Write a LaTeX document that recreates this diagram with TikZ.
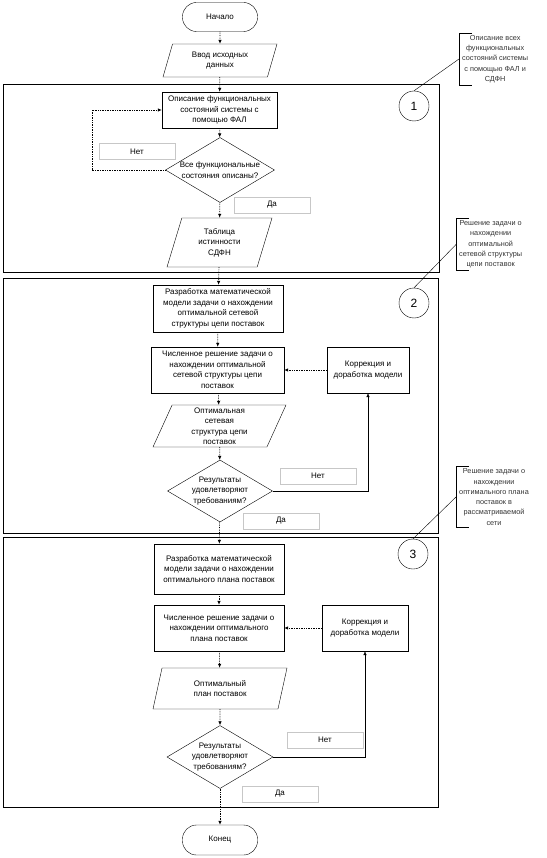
\documentclass[tikz,border=0pt]{standalone}
\usepackage{fontspec}
\setmainfont{Liberation Sans}
\usetikzlibrary{arrows.meta,positioning,shapes.geometric}
\tikzset{
  flowterm/.style={draw, rounded corners=14pt, align=center, minimum width=75pt, minimum height=29pt, inner sep=2pt, font=\fontsize{8}{10.5}\selectfont},
  flowproc/.style={draw, align=center, minimum width=130pt, inner sep=2pt, font=\fontsize{8}{10.5}\selectfont},
  flowio/.style={draw, trapezium, trapezium left angle=64, trapezium right angle=116, trapezium stretches body, align=center, inner sep=1pt, font=\fontsize{8}{10.5}\selectfont},
  flowdecision/.style={draw, diamond, minimum width=106pt, minimum height=63pt, inner sep=0pt},
  decisiontext/.style={align=center, inner sep=0pt, font=\fontsize{8}{10.5}\selectfont},
  flowlabel/.style={draw=black!22, minimum width=76pt, minimum height=16pt, inner sep=1pt, font=\fontsize{8}{10}\selectfont},
  stagecircle/.style={draw, circle, minimum size=30pt, inner sep=0pt, font=\fontsize{12}{12}\selectfont},
  stagenote/.style={align=center, inner xsep=3pt, inner ysep=2pt, font=\fontsize{7.3}{10.3}\selectfont, text=black!80},
  stagebox/.style={line width=0.6pt},
  stageleader/.style={line width=0.4pt},
  flowarrow/.style={-{Latex[length=4pt,width=3.5pt]}, densely dotted, line width=0.7pt},
  flowreturn/.style={-{Latex[length=4pt,width=3.5pt]}, line width=0.5pt}
}
\begin{document}
\begin{tikzpicture}[x=1pt,y=-1pt]
\useasboundingbox (0,0) rectangle (546,858);
% stage frames
\draw[stagebox] (3,84) rectangle (439,272);
\draw[stagebox] (3,278) rectangle (438,533);
\draw[stagebox] (3,537) rectangle (438,807);
\node[flowterm] (start) at (220,17) {Начало};
\node[flowio, minimum width=114pt, minimum height=33pt] (input) at (220,60.5) {Ввод исходных\\данных};
% stage 1
\node[stagecircle] (stage1) at (414,106) {1};
\node[stagenote, anchor=west] (note1) at (459,59) {Описание всех\\функциональных\\состояний системы\\с помощью ФАЛ и\\СДФН};
\node[flowproc, minimum width=115pt, minimum height=36pt] (describeStates) at (219.5,110) {Описание функциональных\\состояний системы с\\помощью ФАЛ};
\node[flowdecision, minimum width=109pt, minimum height=65pt, label={[decisiontext]center:{Все функциональные\\состояния описаны?}}] (allDescribed) at (220,170) {};
\node[flowlabel] (no1) at (137,151.5) {Нет};
\node[flowlabel] (yes1) at (272,205) {Да};
\node[flowio, minimum width=105pt, minimum height=49pt] (truthTable) at (219.5,242.5) {Таблица\\истинности\\СДФН};
\coordinate (loop1) at (92,170);
% stage 2
\node[stagecircle] (stage2) at (414,303) {2};
\node[stagenote, anchor=west] (note2) at (456,244.5) {Решение задачи о\\нахождении\\оптимальной\\сетевой структуры\\цепи поставок};
\node[flowproc, minimum height=47pt] (netModel) at (218,308.5) {Разработка математической\\модели задачи о нахождении\\оптимальной сетевой\\структуры цепи поставок};
\node[flowproc, minimum width=133pt, minimum height=46pt] (netSolve) at (217.5,370) {Численное решение задачи о\\нахождении оптимальной\\сетевой структуры цепи\\поставок};
\node[flowproc, minimum width=82pt, minimum height=46pt] (netFix) at (368,370) {Коррекция и\\доработка модели};
\node[flowio, minimum width=133pt, minimum height=42pt] (netStructure) at (219.5,426) {Оптимальная\\сетевая\\структура цепи\\поставок};
\node[flowdecision, minimum width=105pt, minimum height=62pt, label={[decisiontext]center:{Результаты\\удовлетворяют\\требованиям?}}] (netCheck) at (220,491) {};
\node[flowlabel] (no2) at (318,476) {Нет};
\node[flowlabel] (yes2) at (281,521) {Да};
% stage 3
\node[stagecircle] (stage3) at (413,554) {3};
\node[stagenote, anchor=west] (note3) at (456,497) {Решение задачи о\\нахождении\\оптимального плана\\поставок в\\рассматриваемой\\сети};
\node[flowproc, minimum height=50pt] (planModel) at (219,569) {Разработка математической\\модели задачи о нахождении\\оптимального плана поставок};
\node[flowproc, minimum height=46pt] (planSolve) at (219,628) {Численное решение задачи о\\нахождении оптимального\\плана поставок};
\node[flowproc, minimum width=86pt, minimum height=46pt] (planFix) at (365,628) {Коррекция и\\доработка модели};
\node[flowio, minimum width=134pt, minimum height=41pt] (planResult) at (220,688.5) {Оптимальный\\план поставок};
\node[flowdecision, minimum width=106pt, minimum height=63pt, label={[decisiontext]center:{Результаты\\удовлетворяют\\требованиям?}}] (planCheck) at (220,757) {};
\node[flowlabel] (no3) at (325,740) {Нет};
\node[flowlabel] (yes3) at (280,794) {Да};
\node[flowterm, minimum height=30pt] (finish) at (220,840) {Конец};
% notes
\foreach \n in {note1,note2,note3}
  \draw[stageleader] (\n.north west) ++(13,0) -- (\n.north west) -- (\n.south west) -- ++(13,0);
\draw[stageleader] (stage1.north) -- (note1.west);
\draw[stageleader] (stage2.north) -- (note2.west);
\draw[stageleader] (stage3.north) -- (note3.west);
% flow
\draw[flowarrow] (start) -- (input);
\draw[flowarrow] (input) -- (describeStates);
\draw[flowarrow] (describeStates) -- (allDescribed);
\draw[flowarrow] (allDescribed) -- (truthTable);
\draw[flowarrow] (allDescribed.west) -- (loop1) |- (describeStates.west);
\draw[flowarrow] (truthTable) -- (netModel);
\draw[flowarrow] (netModel) -- (netSolve);
\draw[flowarrow] (netSolve) -- (netStructure);
\draw[flowarrow] (netStructure) -- (netCheck);
\draw[flowarrow] (netFix) -- (netSolve);
\draw[flowreturn] (netCheck.east) -| (netFix.south);
\draw[flowarrow] (netCheck) -- (planModel);
\draw[flowarrow] (planModel) -- (planSolve);
\draw[flowarrow] (planSolve) -- (planResult);
\draw[flowarrow] (planResult) -- (planCheck);
\draw[flowarrow] (planFix) -- (planSolve);
\draw[flowreturn] (planCheck.east) -| (planFix.south);
\draw[flowarrow] (planCheck) -- (finish);
\end{tikzpicture}
\end{document}
